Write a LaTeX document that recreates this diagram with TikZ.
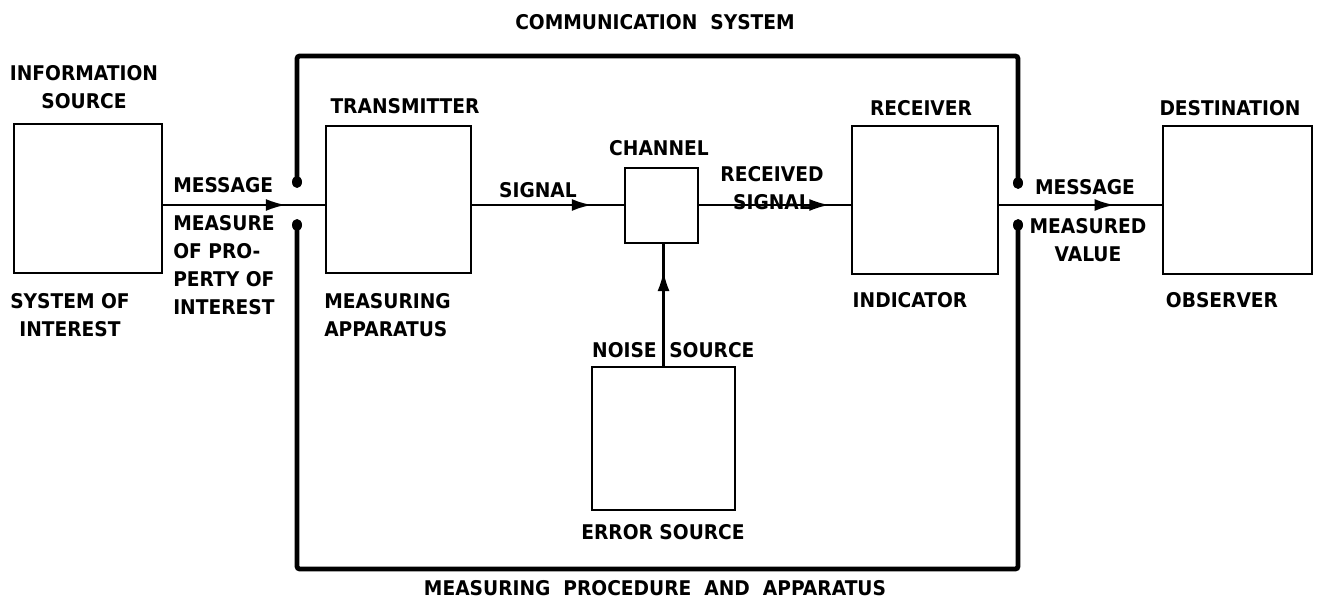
\documentclass[tikz,border=0pt]{standalone}
\usepackage{fontspec}
\setmainfont{DejaVu Sans}[FakeStretch=0.92]
\usetikzlibrary{arrows.meta,decorations.markings,calc}
\begin{document}
\begin{tikzpicture}[x=0.75pt,y=-0.75pt,
  box/.style={draw,line width=2.2pt,inner sep=0pt},
  lbl/.style={font=\bfseries\fontsize{15.2}{21}\selectfont,inner sep=0pt,align=center},
  lbll/.style={lbl,align=left},
  conn/.style={line width=1.8pt},
  frame/.style={line width=3.6pt,rounded corners=2pt},
  midarrow/.style={postaction={decorate},decoration={markings,
     mark=at position #1 with {\arrow{Latex[length=15pt,width=9pt]}}}}]
\useasboundingbox (0,0) rectangle (1317,606);
% boxes
\node[box,minimum width=111pt,minimum height=111.75pt] (info) at (88,198.5) {};
\node[box,minimum width=108.75pt,minimum height=110.25pt] (trans) at (398.5,199.5) {};
\node[box,minimum width=54.75pt,minimum height=56.25pt] (chan) at (661.5,205.5) {};
\node[box,minimum width=109.5pt,minimum height=111pt] (recv) at (925,200) {};
\node[box,minimum width=111.75pt,minimum height=111pt] (dest) at (1237.5,200) {};
\node[box,minimum width=107.25pt,minimum height=107.25pt] (noise) at (663.5,438.5) {};
% main line reference
\coordinate (L) at (0,205);
\draw[conn,midarrow=0.76] (info.east |- L) -- (trans.west |- L);
\draw[conn,midarrow=0.79] (trans.east |- L) -- (chan.west |- L);
\draw[conn,midarrow=0.86] (chan.east |- L) -- (recv.west |- L);
\draw[conn,midarrow=0.71] (recv.east |- L) -- (dest.west |- L);
\draw[conn,midarrow=0.78] (noise.north) -- (noise.north |- chan.south);
% frame
\coordinate (fa) at (297,182);
\coordinate (fb) at (297,225);
\coordinate (fc) at (1018,183);
\coordinate (fd) at (1018,225);
\draw[frame] (fa) -- (297,56) -- (1018,56) -- (fc);
\draw[frame] (fb) -- (297,569) -- (1018,569) -- (fd);
\foreach \p in {fa,fb,fc,fd} \fill (\p) ellipse[x radius=5, y radius=6];
% labels
\node[lbl] (tcomm) at (655,22) {COMMUNICATION\ \ SYSTEM};
\node[lbl] (tmeas) at (655,588) {MEASURING\ \ PROCEDURE\ \ AND\ \ APPARATUS};
\node[lbl,anchor=north] (tinfo) at (84,65) {INFORMATION\\SOURCE};
\node[lbl] (ttrans) at (405,106) {TRANSMITTER};
\node[lbl] (tchan) at (659,148) {CHANNEL};
\node[lbl] (trecv) at (921,108) {RECEIVER};
\node[lbl] (tdest) at (1230,108) {DESTINATION};
\node[lbl,anchor=west] (tmsg1) at (173,185) {MESSAGE};
\node[lbll,anchor=north west] (tmop) at (173,215) {MEASURE\\OF PRO-\\PERTY OF\\INTEREST};
\node[lbl] (tsig) at (538,190) {SIGNAL};
\node[lbl,anchor=north] (trsig) at (772,166) {RECEIVED\\SIGNAL};
\node[lbl] (tmsg2) at (1085,187) {MESSAGE};
\node[lbl,anchor=north] (tmval) at (1088,218) {MEASURED\\VALUE};
\node[lbl,anchor=east] (tnoise) at (657,350) {NOISE};
\node[lbl,anchor=west] (tsrc) at (669,350) {SOURCE};
\node[lbl] (terr) at (663,532) {ERROR SOURCE};
\node[lbl,anchor=north] (tsoi) at (70,293) {SYSTEM OF\\INTEREST};
\node[lbll,anchor=north west] (tmapp) at (324,293) {MEASURING\\APPARATUS};
\node[lbl] (tind) at (910,300) {INDICATOR};
\node[lbl] (tobs) at (1222,300) {OBSERVER};
\end{tikzpicture}
\end{document}
